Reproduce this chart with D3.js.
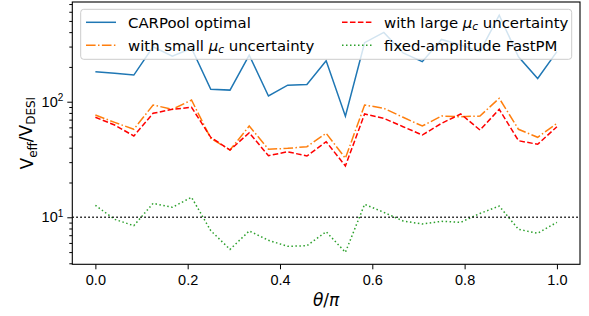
<!DOCTYPE html>
<html lang="en">
<head>
    <meta charset="UTF-8">
    <title>CARPool Veff</title>
    <script src="https://d3js.org/d3.v7.min.js"></script>
    <style>
        body { margin: 0; background: #fff; }
        svg { font-family: "DejaVu Sans", sans-serif; }
        .tick text { font-size: 14.5px; fill: #000; }
    </style>
</head>
<body>
    <script>
        // data
        const theta = [0, 0.0417, 0.0833, 0.125, 0.1667, 0.2083, 0.25, 0.2917, 0.3333, 0.375, 0.4167, 0.4583,
            0.5, 0.5417, 0.5833, 0.625, 0.6667, 0.7083, 0.75, 0.7917, 0.8333, 0.875, 0.9167, 0.9583, 1.0];
        const carpoolOptimal = [182, 176, 170, 299, 248, 290, 128, 126, 253, 112, 139, 141, 226, 75, 324, 398,
            264, 222, 346, 310, 271, 560, 245, 159, 271];
        const smallMuc = [76.7, 66.3, 57.7, 93.7, 85.9, 103.4, 48.2, 38.2, 61.6, 38.8, 39.5, 40.8, 53.3, 32.4,
            93.7, 87.7, 73.3, 61.6, 75.2, 74.1, 75.2, 107, 57.7, 49.2, 65];
        const largeMuc = [73.3, 62.9, 50.5, 79.4, 85.9, 89.5, 49.2, 38.2, 53.9, 34.1, 36.9, 33.9, 45.1, 27.8,
            78.3, 71.8, 60.8, 51.5, 65, 78.3, 56.9, 85.9, 46, 42.8, 60.8];
        const fastPM = [12.7, 9.6, 8.46, 13.2, 12.2, 14.9, 7.66, 5.28, 7.61, 6.32, 5.61, 5.68, 7.5, 4.98,
            12.95, 11.04, 9.29, 8.75, 9.23, 9.05, 10.8, 12.5, 7.87, 7.27, 9.05];
        const xTicks = [0, 0.2, 0.4, 0.6, 0.8, 1.0];
        const yTicks = [10, 100];
        const yMinor = [4, 5, 6, 7, 8, 9, 20, 30, 40, 50, 60, 70, 80, 90, 200, 300, 400, 500, 600, 700];
        const refLevel = 10;

        const W = 589, H = 316;
        const pLeft = 72.3, pRight = 580, pTop = 2, pBottom = 264.3;

        const svg = d3.select("body").append("svg")
            .attr("width", W)
            .attr("height", H);

        const x = d3.scaleLinear().domain([-0.05, 1.05]).range([pLeft, pRight]);
        const y = d3.scaleLog().domain([3.92, 729]).range([pBottom, pTop]);

        // clip so lines stay in the axes
        svg.append("clipPath").attr("id", "clip")
            .append("rect")
            .attr("x", pLeft).attr("y", pTop)
            .attr("width", pRight - pLeft).attr("height", pBottom - pTop);

        const plot = svg.append("g").attr("clip-path", "url(#clip)");

        const line = d3.line()
            .x((d, i) => x(theta[i]))
            .y(d => y(d));

        const series = [
            {name: "carpool", values: carpoolOptimal, color: "#1f77b4", dash: null},
            {name: "small", values: smallMuc, color: "#ff7f0e", dash: "9.6,2.4,1.5,2.4"},
            {name: "large", values: largeMuc, color: "#ff0000", dash: "5.55,2.4"},
            {name: "fastpm", values: fastPM, color: "#2ca02c", dash: "1.5,2.5"}
        ];

        series.forEach(s => {
            plot.append("path")
                .datum(s.values)
                .attr("fill", "none")
                .attr("stroke", s.color)
                .attr("stroke-width", 1.5)
                .attr("stroke-dasharray", s.dash)
                .attr("d", line);
        });

        // horizontal reference line at 10
        plot.append("line")
            .attr("x1", pLeft).attr("x2", pRight)
            .attr("y1", y(refLevel)).attr("y2", y(refLevel))
            .attr("stroke", "#000")
            .attr("stroke-width", 1.5)
            .attr("stroke-dasharray", "1.5,2.5");

        // axes
        const xAxis = d3.axisBottom(x)
            .tickValues(xTicks)
            .tickFormat(d3.format(".1f"))
            .tickSize(5)
            .tickSizeOuter(0)
            .tickPadding(5);

        const gx = svg.append("g")
            .attr("transform", `translate(0,${pBottom})`)
            .call(xAxis);
        gx.select(".domain").remove();

        const gyMinor = svg.append("g")
            .attr("transform", `translate(${pLeft},0)`)
            .call(d3.axisLeft(y).tickValues(yMinor).tickFormat("").tickSize(3).tickSizeOuter(0));
        gyMinor.select(".domain").remove();

        const gy = svg.append("g")
            .attr("transform", `translate(${pLeft},0)`)
            .call(d3.axisLeft(y).tickValues(yTicks).tickFormat("").tickSize(5).tickSizeOuter(0));
        gy.select(".domain").remove();

        gy.selectAll(".tick").each(function(d) {
            const t = d3.select(this).append("text")
                .attr("x", -9)
                .attr("dy", "0.32em")
                .attr("text-anchor", "end")
                .attr("fill", "#000");
            t.append("tspan").text("10");
            t.append("tspan")
                .attr("dy", "-0.55em")
                .attr("font-size", "10px")
                .text(Math.round(Math.log10(d)));
        });

        svg.selectAll(".tick line").attr("stroke", "#000").attr("stroke-width", 1);

        // frame
        svg.append("rect")
            .attr("x", pLeft).attr("y", pTop)
            .attr("width", pRight - pLeft).attr("height", pBottom - pTop)
            .attr("fill", "none")
            .attr("stroke", "#000")
            .attr("stroke-width", 1.1);

        // axis labels
        const xl = svg.append("text")
            .attr("x", (pLeft + pRight) / 2)
            .attr("y", 306)
            .attr("text-anchor", "middle")
            .attr("font-size", "17px");
        xl.append("tspan").attr("font-style", "italic").text("θ");
        xl.append("tspan").text("/");
        xl.append("tspan").attr("font-style", "italic").text("π");

        const yl = svg.append("text")
            .attr("transform", `translate(33,${(pTop + pBottom) / 2}) rotate(-90)`)
            .attr("text-anchor", "middle")
            .attr("font-size", "17px");
        yl.append("tspan").text("V");
        yl.append("tspan").attr("font-size", "12px").attr("dy", "0.3em").text("eff");
        yl.append("tspan").attr("dy", "-0.3em").text("/V");
        yl.append("tspan").attr("font-size", "12px").attr("dy", "0.3em").text("DESI");

        // legend
        const legend = svg.append("g");
        legend.append("rect")
            .attr("x", 80.7).attr("y", 9.3)
            .attr("width", 491).attr("height", 50)
            .attr("rx", 3)
            .attr("fill", "#fff")
            .attr("fill-opacity", 0.8)
            .attr("stroke", "#cccccc")
            .attr("stroke-width", 1);

        const entries = [
            {s: series[0], col: 0, row: 0, label: [["CARPool optimal"]]},
            {s: series[1], col: 0, row: 1, label: [["with small "], ["μ", "i"], ["c", "sub"], [" uncertainty"]]},
            {s: series[2], col: 1, row: 0, label: [["with large "], ["μ", "i"], ["c", "sub"], [" uncertainty"]]},
            {s: series[3], col: 1, row: 1, label: [["fixed-amplitude FastPM"]]}
        ];
        const colX = [86, 342];
        const rowY = [22.3, 45.3];

        entries.forEach(e => {
            const x0 = colX[e.col], yy = rowY[e.row];
            legend.append("line")
                .attr("x1", x0).attr("x2", x0 + 30)
                .attr("y1", yy).attr("y2", yy)
                .attr("stroke", e.s.color)
                .attr("stroke-width", 1.5)
                .attr("stroke-dasharray", e.s.dash);
            const t = legend.append("text")
                .attr("x", x0 + 42)
                .attr("y", yy + 5.3)
                .attr("font-size", "14.9px");
            let shifted = false;
            e.label.forEach(part => {
                const ts = t.append("tspan").text(part[0]);
                if (part[1] === "i") ts.attr("font-style", "italic");
                if (part[1] === "sub") {
                    ts.attr("font-style", "italic").attr("font-size", "10.5px").attr("dy", "0.25em");
                    shifted = true;
                } else if (shifted) {
                    ts.attr("dy", "-0.18em");
                    shifted = false;
                }
            });
        });
    </script>
</body>
</html>
